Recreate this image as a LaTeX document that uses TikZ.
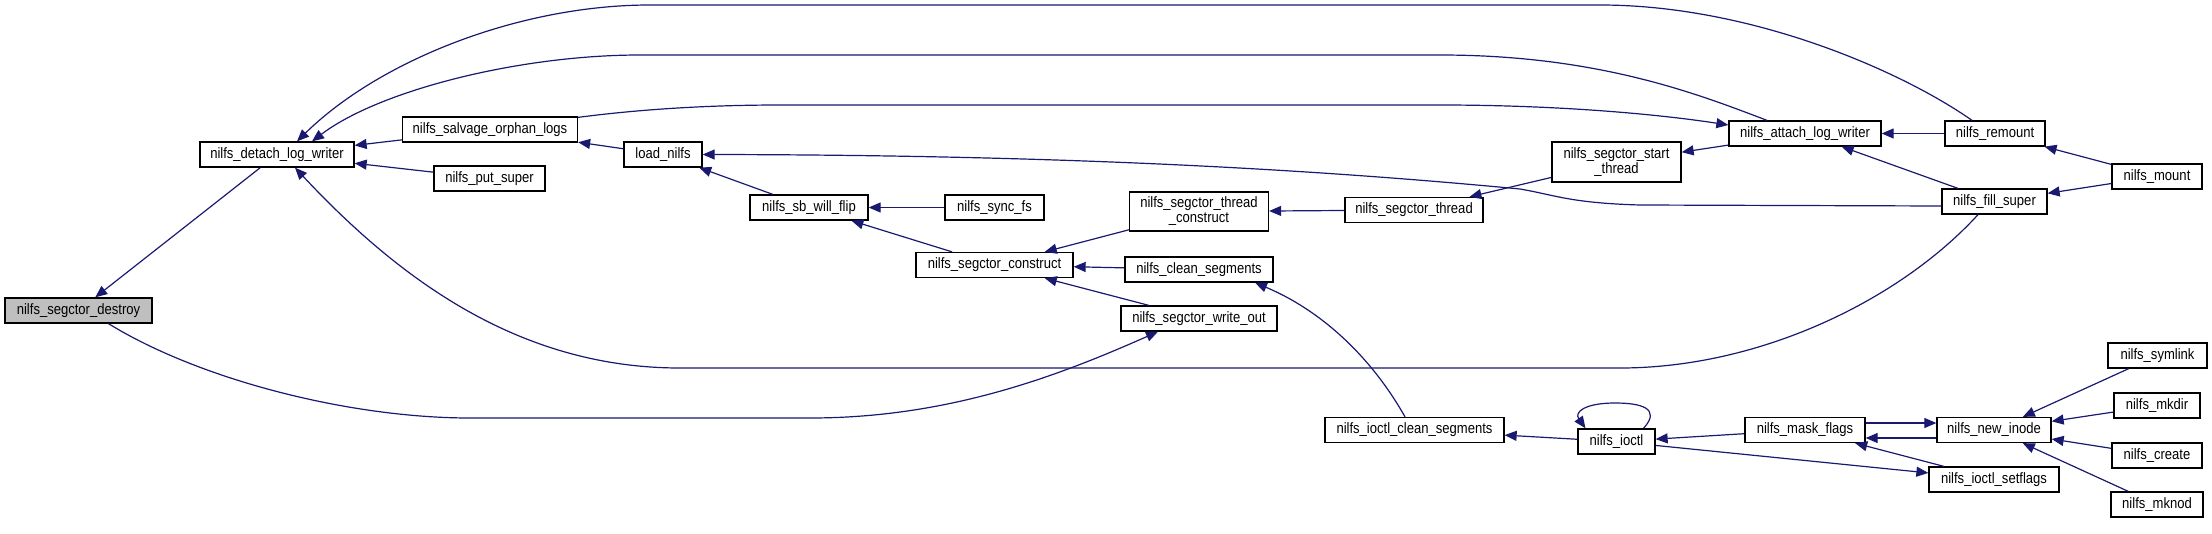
\documentclass[tikz,border=0pt]{standalone}
\usepackage{fontspec}
\setmainfont{Liberation Sans}[FakeStretch=0.87]
\usetikzlibrary{arrows.meta}
\definecolor{edgecol}{HTML}{191970}
\definecolor{graybox}{HTML}{BFBFBF}
\tikzset{
  fn/.style={draw=black, line width=1.3pt, fill=white, inner sep=0pt, minimum height=25pt,
    font=\fontsize{15}{15}\selectfont, align=center},
  edge/.style={draw=edgecol, line width=1.2pt, -{Triangle[length=12pt,width=10pt]}},
}
\begin{document}
\begin{tikzpicture}[x=1pt,y=-1pt]
\useasboundingbox (0,0) rectangle (2212,533);
% nodes
\node[fn, fill=graybox, minimum width=147] (destroy) at (78.5,310.5) {nilfs\_segctor\_destroy};
\node[fn, minimum width=154] (detach) at (277,154.5) {nilfs\_detach\_log\_writer};
\node[fn, minimum width=175] (salvage) at (490,129.5) {nilfs\_salvage\_orphan\_logs};
\node[fn, minimum width=111] (putsuper) at (489.5,178.5) {nilfs\_put\_super};
\node[fn, minimum width=78] (load) at (663,154.5) {load\_nilfs};
\node[fn, minimum width=118] (sbflip) at (809,207.5) {nilfs\_sb\_will\_flip};
\node[fn, minimum width=99] (syncfs) at (994.5,207.5) {nilfs\_sync\_fs};
\node[fn, minimum width=157] (construct) at (994.5,265) {nilfs\_segctor\_construct};
\node[fn, minimum width=139, minimum height=39] (thrconstruct) at (1199,211.5) {nilfs\_segctor\_thread\\\_construct};
\node[fn, minimum width=148] (cleanseg) at (1199,269.5) {nilfs\_clean\_segments};
\node[fn, minimum width=156] (writeout) at (1199,318.5) {nilfs\_segctor\_write\_out};
\node[fn, minimum width=138] (segthread) at (1414,210) {nilfs\_segctor\_thread};
\node[fn, minimum width=179] (ioclean) at (1414.5,430) {nilfs\_ioctl\_clean\_segments};
\node[fn, minimum width=129, minimum height=40] (startthread) at (1616.5,162) {nilfs\_segctor\_start\\\_thread};
\node[fn, minimum width=77] (ioctl) at (1616.5,441.5) {nilfs\_ioctl};
\node[fn, minimum width=152] (attach) at (1805,133.5) {nilfs\_attach\_log\_writer};
\node[fn, minimum width=120] (maskflags) at (1805,430) {nilfs\_mask\_flags};
\node[fn, minimum width=100] (remount) at (1995,133.5) {nilfs\_remount};
\node[fn, minimum width=105] (fillsuper) at (1994.5,201.5) {nilfs\_fill\_super};
\node[fn, minimum width=114] (newinode) at (1994,430) {nilfs\_new\_inode};
\node[fn, minimum width=130] (setflags) at (1994,479.5) {nilfs\_ioctl\_setflags};
\node[fn, minimum width=90] (mount) at (2157,176.5) {nilfs\_mount};
\node[fn, minimum width=99] (symlink) at (2157.5,355.5) {nilfs\_symlink};
\node[fn, minimum width=86] (mkdir) at (2157,405.5) {nilfs\_mkdir};
\node[fn, minimum width=90] (create) at (2157,455.5) {nilfs\_create};
\node[fn, minimum width=92] (mknod) at (2157,504.5) {nilfs\_mknod};
% edges
\draw[edge] (detach) -- (destroy);
\draw[edge] (salvage) -- (detach);
\draw[edge] (putsuper) -- (detach);
\draw[edge] ([xshift=-23pt]remount.north) .. controls (1900,70) and (1750,5) .. (1600,5) -- (650,5) .. controls (520,5) and (380,60) .. ([xshift=20pt]detach.north);
\draw[edge] ([xshift=-38pt]attach.north) .. controls (1700,95) and (1600,55) .. (1440,55) -- (640,55) .. controls (520,55) and (380,90) .. ([xshift=35pt]detach.north);
\draw[edge] ([xshift=-16.5pt]fillsuper.south) .. controls (1900,300) and (1760,368) .. (1620,368) -- (680,368) .. controls (520,368) and (400,280) .. ([xshift=18pt]detach.south);
\draw[edge] ([xshift=30pt]destroy.south) .. controls (200,380) and (350,418) .. (470,418) -- (810,418) .. controls (950,418) and (1060,375) .. ([xshift=-41pt]writeout.south);
\draw[edge] (load) -- (salvage);
\draw[edge] ([yshift=-1pt]salvage.north east) .. controls (650,108) and (720,105) .. (780,105) -- (1440,105) .. controls (1550,105) and (1650,113) .. ([yshift=8.5pt]attach.west);
\draw[edge] ([yshift=-4.5pt]fillsuper.west) -- (1640,205) .. controls (1570,203) and (1555,195) .. (1520,189) .. controls (1300,168) and (1050,155) .. (load.east);
\draw[edge] (sbflip) -- (load);
\draw[edge] (syncfs) -- (sbflip);
\draw[edge] (construct) -- (sbflip);
\draw[edge] (thrconstruct) -- (construct);
\draw[edge] (cleanseg) -- (construct);
\draw[edge] (writeout) -- (construct);
\draw[edge] (segthread) -- (thrconstruct);
\draw[edge] (startthread) -- (segthread);
\draw[edge] (attach) -- (startthread);
\draw[edge] (remount) -- (attach);
\draw[edge] (fillsuper) -- (attach);
\draw[edge] (mount) -- (remount);
\draw[edge] (mount) -- (fillsuper);
\draw[edge] ([xshift=-9.5pt]ioclean.north) .. controls (1370,355) and (1320,310) .. ([xshift=56pt]cleanseg.south);
\draw[edge] (ioctl) -- (ioclean);
\draw[edge] ([xshift=27pt]ioctl.north) .. controls (1662,408) and (1640,403) .. (1615,403) .. controls (1585,403) and (1574,412) .. ([xshift=-31pt]ioctl.north);
\draw[edge] (maskflags) -- (ioctl);
\draw[edge] (ioctl) -- (setflags);
\draw[edge] ([yshift=7pt]maskflags.east) -- ([yshift=7pt]newinode.west);
\draw[edge] ([yshift=-8pt]newinode.west) -- ([yshift=-8pt]maskflags.east);
\draw[edge] (setflags) -- (maskflags);
\draw[edge] (symlink) -- (newinode);
\draw[edge] (mkdir) -- (newinode);
\draw[edge] (create) -- (newinode);
\draw[edge] (mknod) -- (newinode);
\end{tikzpicture}
\end{document}
